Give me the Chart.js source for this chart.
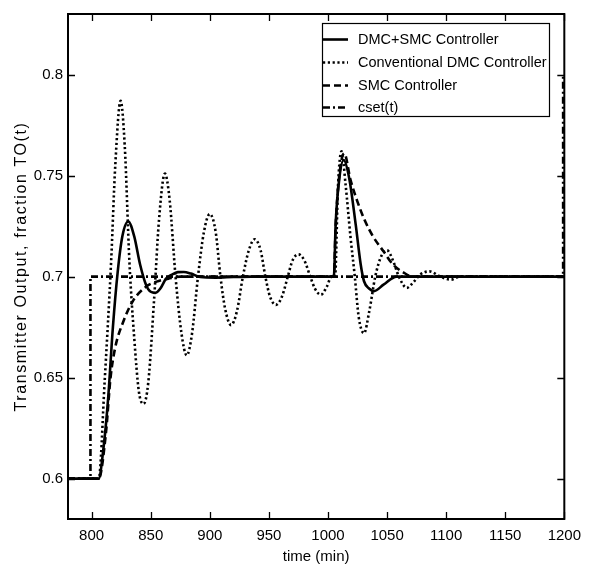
<!DOCTYPE html>
<html>
<head>
<meta charset="utf-8">
<script src="https://cdn.jsdelivr.net/npm/chart.js@4.4.0/dist/chart.umd.min.js"></script>
<style>
body { margin: 0; background: #fff; }
</style>
</head>
<body>
<canvas id="myChart" width="589" height="569"></canvas>
<script>
// axis ticks
var xTicks = [800, 850, 900, 950, 1000, 1050, 1100, 1150, 1200];
var yTicks = [0.6, 0.65, 0.7, 0.75, 0.8];

// DMC+SMC Controller (solid)
var hybridT = [780, 806, 810, 814, 818, 822, 826, 831, 836, 841, 846, 850, 854, 858, 863, 868, 873, 878, 884, 892, 905, 920, 935,
    1005, 1006.5, 1009.5, 1013.2, 1018, 1023.5, 1027.7, 1030.5, 1035, 1039, 1047, 1058, 1200];
var hybridY = [0.6, 0.6, 0.615, 0.64, 0.675, 0.702, 0.72, 0.7273, 0.72, 0.706, 0.696, 0.6925, 0.692, 0.694, 0.699, 0.701, 0.7022, 0.7023, 0.7015, 0.6998, 0.6995, 0.6998, 0.7,
    0.7, 0.726, 0.748, 0.7577, 0.7486, 0.7256, 0.706, 0.6977, 0.694, 0.6928, 0.696, 0.7, 0.7];

// Conventional DMC Controller (dotted)
var dmcT = [780, 806, 811, 816.5, 820, 824.5, 828, 832, 836, 840, 844, 848, 853, 857, 862, 866, 871, 876, 880.5, 885, 890, 895, 900,
    905, 909, 913, 918, 923, 928, 933, 938, 943, 947, 951, 956, 961, 966, 970, 975, 980, 985, 989, 994, 999, 1003, 1006,
    1008.5, 1011.5, 1015, 1019, 1022.7, 1026, 1030.5, 1035, 1040, 1045, 1050, 1055, 1060, 1066.7, 1072, 1078, 1086, 1095, 1104, 1112, 1200];
var dmcY = [0.6, 0.6, 0.648, 0.7075, 0.755, 0.787, 0.765, 0.707, 0.67, 0.643, 0.637, 0.648, 0.69, 0.728, 0.751, 0.738, 0.7, 0.672, 0.661, 0.672, 0.7, 0.722, 0.731,
    0.722, 0.7, 0.684, 0.676, 0.683, 0.7, 0.713, 0.7185, 0.713, 0.7, 0.69, 0.686, 0.69, 0.7, 0.708, 0.711, 0.708, 0.7, 0.694, 0.691, 0.695, 0.7, 0.7,
    0.745, 0.762, 0.745, 0.72, 0.7, 0.68, 0.672, 0.683, 0.7, 0.71, 0.713, 0.708, 0.7, 0.6944, 0.697, 0.701, 0.7026, 0.7, 0.6985, 0.7, 0.7];

// SMC Controller (dashed)
var smcT = [780, 806, 812, 816, 820, 827, 835, 846, 855, 865, 875, 1005, 1006.5, 1010, 1013.8, 1019, 1025, 1031, 1038, 1047, 1055, 1064, 1072, 1200];
var smcY = [0.6, 0.6, 0.622, 0.65, 0.665, 0.678, 0.688, 0.695, 0.6975, 0.699, 0.7, 0.7, 0.725, 0.752, 0.761, 0.748, 0.737, 0.728, 0.72, 0.7125, 0.706, 0.702, 0.7, 0.7];

// cset(t) (dash-dot)
var csetT = [780, 799, 799, 1199, 1199, 1200];
var csetY = [0.6, 0.6, 0.7, 0.7, 0.8, 0.8];

function toPoints(t, y) {
    return t.map(function (v, i) { return { x: v, y: y[i] }; });
}

var fontFamily = "'Liberation Sans', Arial, sans-serif";
Chart.defaults.font.family = fontFamily;
Chart.defaults.color = '#000';

var framePlugin = {
    id: 'frame',
    afterDraw: function (chart) {
        var c = chart.ctx, a = chart.chartArea;
        var xs = chart.scales.x, ys = chart.scales.y;
        c.save();
        c.strokeStyle = '#000';
        c.lineWidth = 2;
        c.setLineDash([]);
        c.strokeRect(a.left, a.top, a.right - a.left, a.bottom - a.top);
        // inside tick marks on all four sides
        c.lineWidth = 1.3;
        c.beginPath();
        xTicks.forEach(function (v) {
            var px = Math.round(xs.getPixelForValue(v)) + 0.5;
            c.moveTo(px, a.bottom); c.lineTo(px, a.bottom - 7);
            c.moveTo(px, a.top); c.lineTo(px, a.top + 7);
        });
        yTicks.forEach(function (v) {
            var py = Math.round(ys.getPixelForValue(v)) + 0.5;
            c.moveTo(a.left, py); c.lineTo(a.left + 7, py);
            c.moveTo(a.right, py); c.lineTo(a.right - 7, py);
        });
        c.stroke();

        // legend
        var lx = 322.5, ly = 23.5, lw = 227, lh = 93;
        c.fillStyle = '#fff';
        c.fillRect(lx, ly, lw, lh);
        c.lineWidth = 1.2;
        c.strokeRect(lx, ly, lw, lh);
        var rows = [39.5, 62.5, 85.5, 107.5];
        c.font = '14.5px ' + fontFamily;
        c.textBaseline = 'middle';
        c.textAlign = 'left';
        chart.data.datasets.forEach(function (ds, i) {
            c.beginPath();
            c.lineWidth = ds.borderWidth;
            c.setLineDash(ds.borderDash || []);
            c.moveTo(323, rows[i]);
            c.lineTo(348, rows[i]);
            c.stroke();
            c.setLineDash([]);
            c.fillStyle = '#000';
            c.fillText(ds.label, 358, rows[i]);
        });

        // y axis title
        c.translate(26, (a.top + a.bottom) / 2);
        c.rotate(-Math.PI / 2);
        c.font = '16px ' + fontFamily;
        c.letterSpacing = '1.6px';
        c.textAlign = 'center';
        c.textBaseline = 'alphabetic';
        c.fillText('Transmitter Output, fraction TO(t)', 0, 0);
        c.restore();
    }
};

var ctx = document.getElementById('myChart').getContext('2d');
var myChart = new Chart(ctx, {
    type: 'line',
    data: {
        datasets: [{
            label: 'DMC+SMC Controller',
            data: toPoints(hybridT, hybridY),
            borderColor: '#000',
            borderWidth: 2.6,
            cubicInterpolationMode: 'monotone'
        }, {
            label: 'Conventional DMC Controller',
            data: toPoints(dmcT, dmcY),
            borderColor: '#000',
            borderWidth: 2.6,
            borderDash: [2.2, 2.6],
            cubicInterpolationMode: 'monotone'
        }, {
            label: 'SMC Controller',
            data: toPoints(smcT, smcY),
            borderColor: '#000',
            borderWidth: 2.6,
            borderDash: [7, 4],
            cubicInterpolationMode: 'monotone'
        }, {
            label: 'cset(t)',
            data: toPoints(csetT, csetY),
            borderColor: '#000',
            borderWidth: 2.6,
            borderDash: [7, 3, 2, 3]
        }]
    },
    options: {
        responsive: false,
        animation: false,
        events: [],
        elements: { point: { radius: 0 } },
        layout: { padding: { top: 12, right: 19, left: 0, bottom: 0 } },
        plugins: {
            legend: { display: false },
            tooltip: { enabled: false }
        },
        scales: {
            x: {
                type: 'linear',
                min: 780,
                max: 1200,
                afterBuildTicks: function (scale) {
                    scale.ticks = xTicks.map(function (v) { return { value: v }; });
                },
                afterFit: function (scale) { scale.height = 50; },
                grid: { display: false, drawTicks: false },
                border: { display: false },
                ticks: {
                    padding: 8,
                    maxRotation: 0,
                    autoSkip: false,
                    font: { size: 15 },
                    callback: function (v) { return String(v); }
                },
                title: {
                    display: true,
                    text: 'time (min)',
                    font: { size: 15 },
                    padding: { top: 0, bottom: 3 }
                }
            },
            y: {
                min: 0.58,
                max: 0.83,
                afterBuildTicks: function (scale) {
                    scale.ticks = yTicks.map(function (v) { return { value: v }; });
                },
                afterFit: function (scale) { scale.width = 68; },
                grid: { display: false, drawTicks: false },
                border: { display: false },
                ticks: {
                    padding: 5,
                    font: { size: 15 },
                    callback: function (v) { return String(+v.toFixed(2)); }
                }
            }
        }
    },
    plugins: [framePlugin]
});
</script>
</body>
</html>
